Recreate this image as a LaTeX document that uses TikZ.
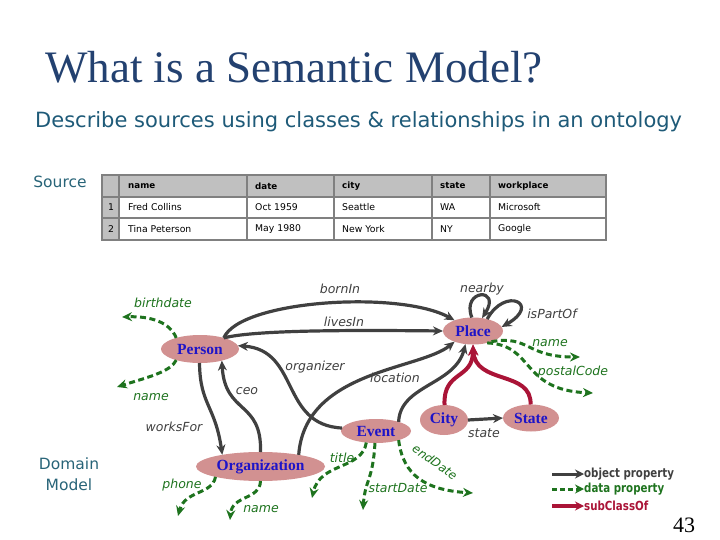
\documentclass[tikz,border=0pt]{standalone}
\usepackage{fontspec}
\setmainfont{DejaVu Sans}
\newfontfamily\serifrm{Liberation Serif}
\usetikzlibrary{shapes.geometric,arrows.meta}
\definecolor{titlec}{RGB}{35,65,112}
\definecolor{subc}{RGB}{30,90,120}
\definecolor{sidec}{RGB}{40,100,120}
\definecolor{clsfill}{RGB}{210,145,145}
\definecolor{clstext}{RGB}{30,20,200}
\definecolor{objc}{RGB}{64,64,64}
\definecolor{datc}{RGB}{30,115,30}
\definecolor{subcl}{RGB}{170,20,55}
\definecolor{tblgray}{RGB}{192,192,192}
\definecolor{tblline}{RGB}{128,128,128}
\begin{document}
\begin{tikzpicture}[x=1pt,y=-1pt,
  cls/.style={ellipse, fill=clsfill, inner sep=0pt, outer sep=0pt, text=clstext,
    font=\serifrm\bfseries\fontsize{15.5}{17}\selectfont},
  obj/.style={draw=objc, line width=3.2pt, -{Stealth[length=10pt,width=9pt]}},
  dat/.style={draw=datc, line width=3pt, dash pattern=on 6pt off 3.5pt, -{Stealth[length=10pt,width=9pt]}},
  subarr/.style={draw=subcl, line width=4pt, -{Stealth[length=11pt,width=10pt]}},
  olbl/.style={text=objc, inner sep=0pt, font=\fontsize{12.5}{14}\selectfont\itshape},
  dlbl/.style={text=datc, inner sep=0pt, font=\fontsize{12.5}{14}\selectfont\itshape},
  cell/.style={anchor=west, inner sep=0pt, text=black, font=\fontsize{9.3}{11}\selectfont},
  hcell/.style={anchor=west, inner sep=0pt, text=black, font=\fontsize{8.7}{11}\selectfont\bfseries},
  side/.style={text=sidec, inner sep=0pt, align=center, font=\fontsize{15.5}{21}\selectfont},
  leg/.style={anchor=west, inner sep=0pt, font=\fontsize{12.5}{14}\selectfont\bfseries}
]
\useasboundingbox (0,0) rectangle (720,540);

% title
\node[anchor=base west, inner sep=0pt, text=titlec, font=\serifrm\fontsize{45}{50}\selectfont] (title) at (45,83) {What is a Semantic Model?};
\node[anchor=base west, inner sep=0pt, text=subc, font=\fontsize{21}{24}\selectfont] (subtitle) at (35,128) {Describe sources using classes \& relationships in an ontology};

% side labels
\node[side] (source) at (60,182) {Source};
\node[side] (domain) at (69,474) {Domain\\Model};

% table
\fill[tblgray] (102,175) rectangle (606,197);
\fill[tblgray] (102,197) rectangle (119,240);
\draw[tblline, line width=2pt] (102,175) rectangle (606,240);
\draw[tblline, line width=2pt] (102,197) -- (606,197) (102,218) -- (606,218);
\foreach \xx in {119,247,334,432,490} \draw[tblline, line width=2pt] (\xx,175) -- (\xx,240);
\node[hcell] (h1) at (128,186) {name};
\node[hcell] (h2) at (255,186) {date};
\node[hcell] (h3) at (342,186) {city};
\node[hcell] (h4) at (440,186) {state};
\node[hcell] (h5) at (498,186) {workplace};
\node[cell, anchor=center] (i1) at (111,207) {1};
\node[cell] (a1) at (128,207) {Fred Collins};
\node[cell] (b1) at (255,207) {Oct 1959};
\node[cell] (c1) at (342,207) {Seattle};
\node[cell] (d1) at (440,207) {WA};
\node[cell] (e1) at (498,207) {Microsoft};
\node[cell, anchor=center] (i2) at (111,229) {2};
\node[cell] (a2) at (128,229) {Tina Peterson};
\node[cell] (b2) at (255,229) {May 1980};
\node[cell] (c2) at (342,229) {New York};
\node[cell] (d2) at (440,229) {NY};
\node[cell] (e2) at (498,229) {Google};

% classes
\node[cls, minimum width=78pt, minimum height=28pt] (person) at (200,349) {Person};
\node[cls, minimum width=60pt, minimum height=27pt] (place) at (473,331) {Place};
\node[cls, minimum width=48pt, minimum height=30pt] (city) at (444,420) {City};
\node[cls, minimum width=56pt, minimum height=27pt] (state) at (531,418) {State};
\node[cls, minimum width=70pt, minimum height=24pt] (event) at (376,431) {Event};
\node[cls, minimum width=129pt, minimum height=29pt] (org) at (260.5,466.5) {Organization};

% free ends
\coordinate (bd) at (122,317);
\coordinate (pn) at (117,387);
\coordinate (plname) at (580,357);
\coordinate (pc) at (593,393);
\coordinate (ti) at (312,498);
\coordinate (sd) at (363,510);
\coordinate (ed) at (473,493);
\coordinate (ph) at (178,516);
\coordinate (on) at (230,520);

% subclass
\draw[subarr] (city.88) .. controls (443,370) and (473,380) .. (place.-90);
\draw[subarr] (state.92) .. controls (532,370) and (475,385) .. (place.-90);

% object properties
\draw[obj] (person.25) .. controls (240,300) and (400,290) .. (place.150);
\draw[obj] (person.25) .. controls (255,330) and (350,330) .. (place.west);
\draw[obj] (place.95) .. controls (461,289) and (502,287) .. (place.55);
\draw[obj] (place.40) .. controls (505,286) and (542,304) .. (place.8);
\draw[obj] (event.175) .. controls (280,425) and (300,350) .. (person.5);
\draw[obj] (org.90) .. controls (262,400) and (225,415) .. (person.-28);
\draw[obj] (person.-92) .. controls (200,405) and (215,405) .. (org.163);
\draw[obj] (org.17) .. controls (305,370) and (420,370) .. (place.-150);
\draw[obj] (event.22) .. controls (400,385) and (455,385) .. (place.-120);
\draw[obj] (city.east) -- (state.west);

% data properties
\draw[dat] (person.155) .. controls (170,322) and (150,316) .. (bd);
\draw[dat] (person.-155) .. controls (171,372) and (145,378) .. (pn);
\draw[dat] (place.-30) .. controls (530,335) and (525,357) .. (plname);
\draw[dat] (place.-40) .. controls (535,345) and (520,390) .. (pc);
\draw[dat] (event.-130) .. controls (362,470) and (320,462) .. (ti);
\draw[dat] (event.-95) .. controls (373,480) and (365,480) .. (sd);
\draw[dat] (event.-22) .. controls (403,475) and (425,490) .. (ed);
\draw[dat] (org.-167) .. controls (212,495) and (185,490) .. (ph);
\draw[dat] (org.-90) .. controls (260,500) and (232,495) .. (on);

% labels
\node[dlbl] (lbd) at (163,303) {birthdate};
\node[dlbl] (lpn) at (151,397) {name};
\node[olbl] (lborn) at (340,289) {bornIn};
\node[olbl] (llives) at (344,322) {livesIn};
\node[olbl] (lnear) at (482,289) {nearby};
\node[olbl] (lpart) at (552,314) {isPartOf};
\node[dlbl] (lplname) at (550,343) {name};
\node[dlbl] (lpc) at (573,372) {postalCode};
\node[olbl] (lorg) at (315,367) {organizer};
\node[olbl] (lloc) at (395,378) {location};
\node[olbl] (lceo) at (247,391) {ceo};
\node[olbl] (lworks) at (174,427) {worksFor};
\node[dlbl] (ltitle) at (342,458) {title};
\node[dlbl] (lstart) at (398,488) {startDate};
\node[dlbl, rotate=-35, font=\fontsize{12}{14}\selectfont\itshape] (lend) at (435,462) {endDate};
\node[olbl] (lstate) at (484,433) {state};
\node[dlbl] (lphone) at (182,485) {phone};
\node[dlbl] (loname) at (261,509) {name};

% legend
\coordinate (k1) at (552,474);
\coordinate (k2) at (552,489);
\coordinate (k3) at (552,506);
\node[leg, text=objc] (t1) at (584,474) {\scalebox{0.82}[1]{object property}};
\node[leg, text=datc] (t2) at (584,489) {\scalebox{0.82}[1]{data property}};
\node[leg, text=subcl] (t3) at (584,506) {\scalebox{0.82}[1]{subClassOf}};
\draw[obj, line width=3pt, -{Stealth[length=9pt,width=9pt]}] (k1) -- (t1.west);
\draw[dat, line width=3pt, dash pattern=on 5pt off 3pt, -{Stealth[length=9pt,width=9pt]}] (k2) -- (t2.west);
\draw[subarr, line width=3.5pt, -{Stealth[length=9pt,width=9pt]}] (k3) -- (t3.west);

% page number
\node[anchor=base, inner sep=0pt, text=black, font=\serifrm\fontsize{22}{24}\selectfont] (pnum) at (684,532) {43};
\end{tikzpicture}
\end{document}
